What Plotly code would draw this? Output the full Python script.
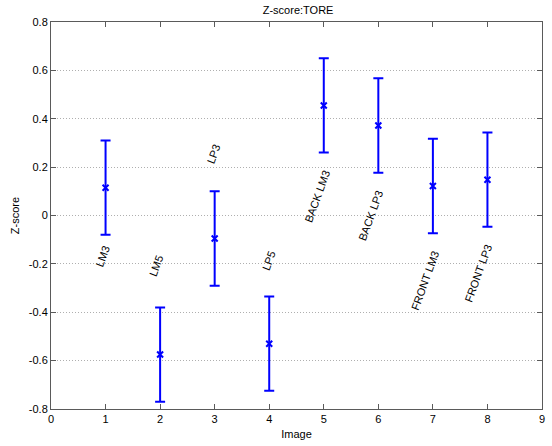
import plotly.graph_objects as go

# Z-score per image with symmetric error bars
images = [1, 2, 3, 4, 5, 6, 7, 8]
zscore = [0.115, -0.575, -0.095, -0.530, 0.455, 0.372, 0.122, 0.148]
err = [0.195, 0.195, 0.195, 0.195, 0.195, 0.195, 0.195, 0.195]

# Rotated labels for each image (text, x, y)
label_text = ["LM3", "LM5", "LP3", "LP5", "BACK LM3", "BACK LP3", "FRONT LM3", "FRONT LP3"]
label_x = [0.95, 1.93, 2.98, 4.0, 4.87, 5.85, 6.85, 7.82]
label_y = [-0.168, -0.21, 0.254, -0.185, 0.078, 0.0, -0.27, -0.24]

x_ticks = [0, 1, 2, 3, 4, 5, 6, 7, 8, 9]
x_ticklabels = ["0", "1", "2", "3", "4", "5", "6", "7", "8", "9"]
y_ticks = [-0.8, -0.6, -0.4, -0.2, 0, 0.2, 0.4, 0.6, 0.8]
y_ticklabels = ["-0.8", "-0.6", "-0.4", "-0.2", "0", "0.2", "0.4", "0.6", "0.8"]

BLUE = "rgb(0,0,255)"
AXIS = "rgb(90,90,90)"
FONT = "Liberation Sans, Arial, sans-serif"

fig = go.Figure()
fig.add_trace(go.Scatter(
    x=images, y=zscore, mode="markers",
    marker=dict(symbol="x-thin", size=6, color=BLUE, line=dict(color=BLUE, width=2)),
    error_y=dict(type="data", array=err, visible=True, color=BLUE, thickness=2, width=5),
    showlegend=False,
))

for t, lx, ly in zip(label_text, label_x, label_y):
    fig.add_annotation(x=lx, y=ly, text=t, textangle=-70, showarrow=False,
                       xanchor="center", yanchor="middle",
                       font=dict(family=FONT, size=11, color="black"))

fig.update_layout(
    width=552, height=446,
    margin=dict(l=51, r=7, t=22, b=33),
    paper_bgcolor="white", plot_bgcolor="white",
    font=dict(family=FONT, size=11, color="black"),
    title=dict(text="Z-score:TORE", x=0.54, xanchor="center", y=0.985, yanchor="top",
               font=dict(family=FONT, size=11, color="black")),
)
fig.update_xaxes(
    range=[0, 9], tickvals=x_ticks, ticktext=x_ticklabels,
    showgrid=False, zeroline=False,
    showline=True, linecolor=AXIS, linewidth=1, mirror="ticks",
    ticks="inside", ticklen=5, tickcolor=AXIS,
    title=dict(text="Image", standoff=6, font=dict(family=FONT, size=11)),
    tickfont=dict(family=FONT, size=11),
)
fig.update_yaxes(
    range=[-0.8, 0.8], tickvals=y_ticks, ticktext=y_ticklabels,
    showgrid=True, gridcolor="rgb(175,175,175)", griddash="1px,2px", gridwidth=1,
    zeroline=False,
    showline=True, linecolor=AXIS, linewidth=1, mirror="ticks",
    ticks="inside", ticklen=5, tickcolor=AXIS,
    title=dict(text="Z-score", standoff=6, font=dict(family=FONT, size=11)),
    tickfont=dict(family=FONT, size=11),
)

fig.write_html("out.html")
